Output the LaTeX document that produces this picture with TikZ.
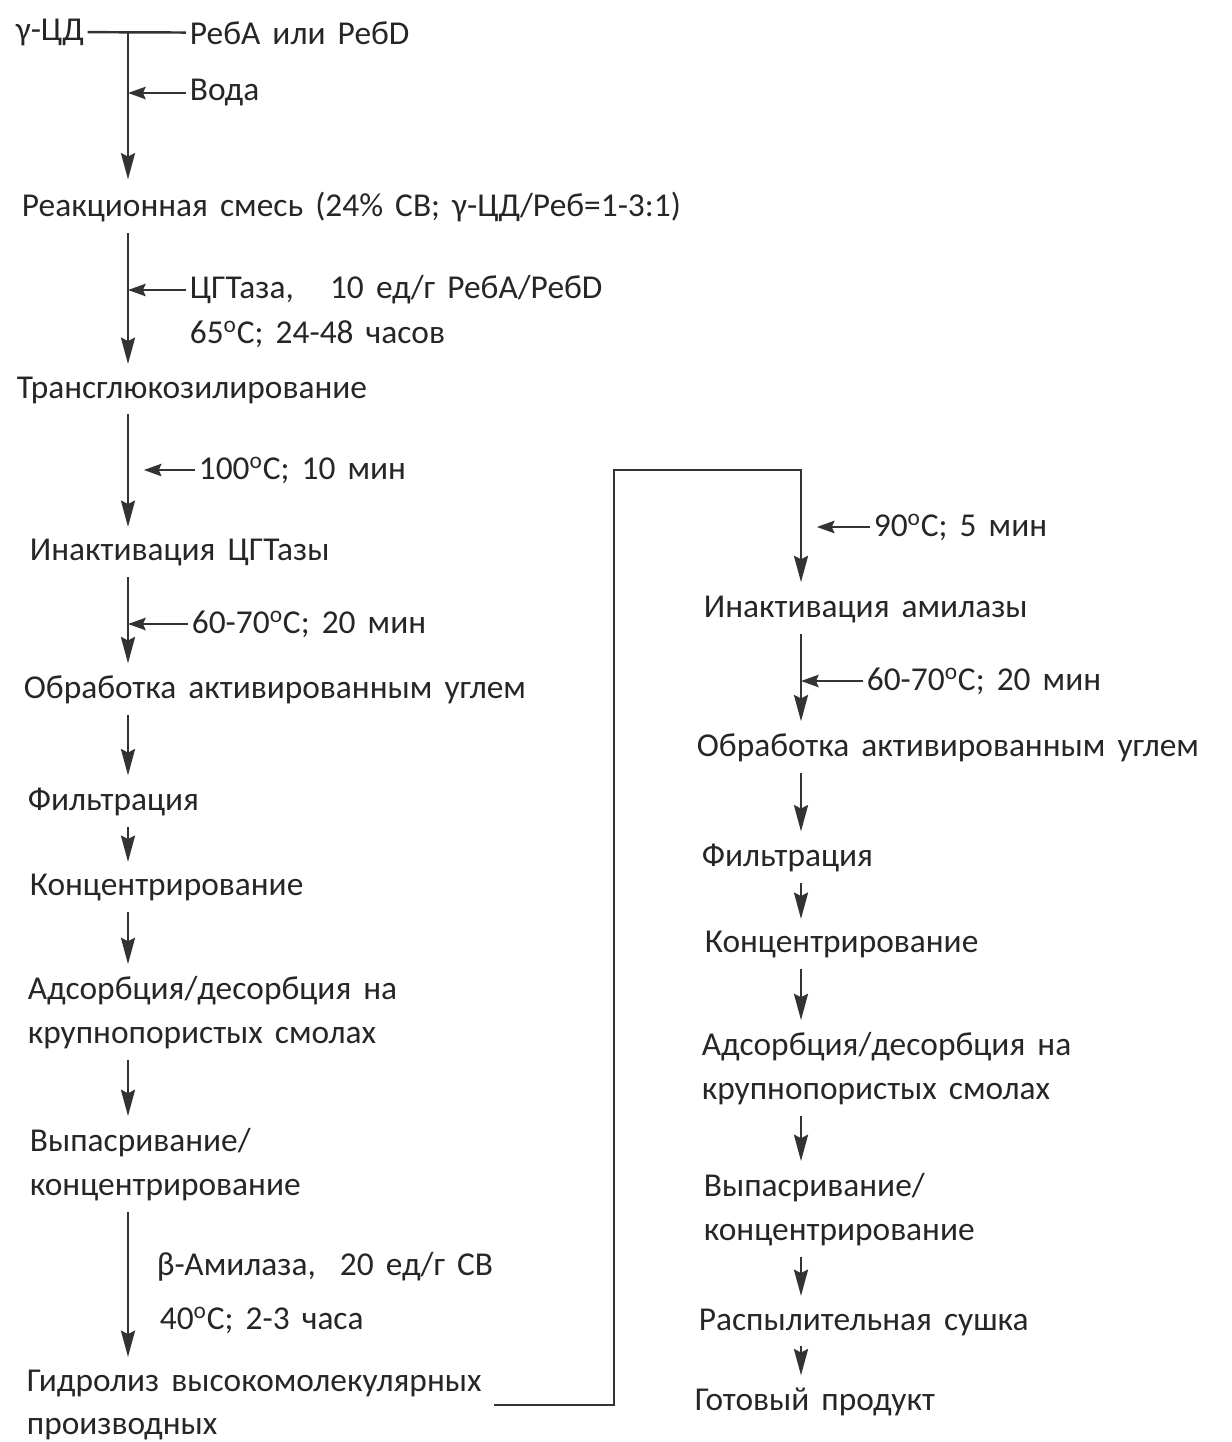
\documentclass[tikz,border=0pt]{standalone}
\usepackage{fontspec}
\setmainfont{Carlito}[WordSpace=1.6]
\usetikzlibrary{arrows.meta, positioning}

\begin{document}
\begin{tikzpicture}[x=0.02cm, y=-0.02cm,
        every node/.style={inner sep=2pt, text=black!85, font=\fontsize{19}{25}\selectfont},
        stage/.style={anchor=west, align=left},
        cond/.style={anchor=west},
        flow/.style={draw=black!80, line width=1.4pt, shorten <=4pt, shorten >=5pt,
            -{Stealth[length=15pt, width=8pt, inset=2pt]}},
        feed/.style={draw=black!80, line width=1.4pt, -{Stealth[length=10pt, width=7pt, inset=1.5pt]}},
        link/.style={draw=black!80, line width=1.4pt}]
        \useasboundingbox (0,0) rectangle (1231,1442);
        \coordinate (lx) at (128, 0);
        \coordinate (rx) at (801, 0);
        \coordinate (turn) at (614, 470);

        \node[stage] (cd) at (12, 32) {γ-ЦД};
        \node[cond] (reb) at (186, 33) {РебА или РебD};
        \node[cond] (water) at (186, 93) {Вода};
        \node[stage] (mix) at (18, 207) {Реакционная смесь (24\% СВ; γ-ЦД/Реб=1-3:1)};
        \node[cond] (cgt) at (186, 290) {ЦГТаза,\ \ \ 10 ед/г РебА/РебD};
        \node[cond] (cgtc) at (186, 334) {65\textsuperscript{o}C; 24-48 часов};
        \node[stage] (tg) at (13, 390) {Трансглюкозилирование};
        \node[cond] (inact) at (195, 470) {100\textsuperscript{o}C; 10 мин};
        \node[stage] (inc) at (26, 553) {Инактивация ЦГТазы};
        \node[cond] (cool) at (188, 624) {60-70\textsuperscript{o}C; 20 мин};
        \node[stage] (obr) at (20, 690) {Обработка активированным углем};
        \node[stage] (fil) at (24, 802) {Фильтрация};
        \node[stage] (kon) at (26, 888) {Концентрирование};
        \node[stage] (ads) at (24, 1013) {Адсорбция/десорбция на\\крупнопористых смолах};
        \node[stage] (vyp) at (26, 1165) {Выпасривание/\\концентрирование};
        \node[cond] (amy) at (153, 1267) {β-Амилаза,\ \ 20 ед/г СВ};
        \node[cond] (amyc) at (156, 1320) {40\textsuperscript{o}C; 2-3 часа};
        \node[stage] (hyd) at (23, 1405) {Гидролиз высокомолекулярных\\производных};

        \node[cond] (heat) at (870, 527) {90\textsuperscript{o}C; 5 мин};
        \node[stage] (inam) at (700, 610) {Инактивация амилазы};
        \node[cond] (cool2) at (863, 681) {60-70\textsuperscript{o}C; 20 мин};
        \node[stage] (obr2) at (693, 748) {Обработка активированным углем};
        \node[stage] (fil2) at (698, 858) {Фильтрация};
        \node[stage] (kon2) at (701, 945) {Концентрирование};
        \node[stage] (ads2) at (698, 1069) {Адсорбция/десорбция на\\крупнопористых смолах};
        \node[stage] (vyp2) at (700, 1210) {Выпасривание/\\концентрирование};
        \node[stage] (ras) at (695, 1322) {Распылительная сушка};
        \node[stage] (got) at (691, 1402) {Готовый продукт};

        \draw[link] (cd) to (reb);
        \draw[flow, shorten <=0pt] (cd.east -| lx) to (mix.north -| lx);
        \foreach \a/\b in {mix/tg, tg/inc, inc/obr, obr/fil, fil/kon, kon/ads, ads/vyp, vyp/hyd}
            \draw[flow] (\a.south -| lx) to (\b.north -| lx);
        \foreach \a in {water, cgt, cool}
            \draw[feed] (\a.west) to (\a.west -| lx);
        \draw[feed, shorten >=9pt] (inact.west) to (inact.west -| lx);

        \draw[flow, shorten <=5pt, shorten >=6pt] (hyd.east) -| (turn) -| (inam.north -| rx);
        \draw[feed, shorten >=9pt] (heat.west) to (heat.west -| rx);
        \draw[feed] (cool2.west) to (cool2.west -| rx);
        \foreach \a/\b in {inam/obr2, obr2/fil2, fil2/kon2, kon2/ads2, ads2/vyp2, vyp2/ras, ras/got}
            \draw[flow] (\a.south -| rx) to (\b.north -| rx);
\end{tikzpicture}
\end{document}
